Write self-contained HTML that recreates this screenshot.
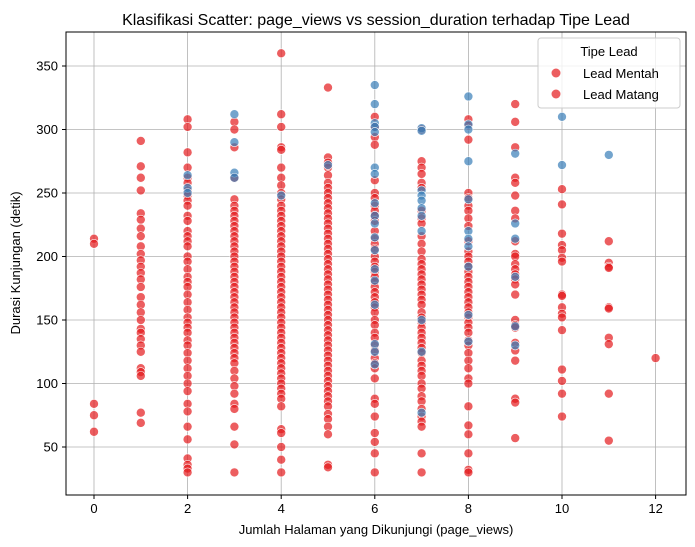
<!DOCTYPE html>
<html><head><meta charset="utf-8"><style>
body{margin:0;background:#fff}
svg{display:block;font-family:"Liberation Sans","DejaVu Sans",sans-serif}
</style></head><body>
<svg id="chart" width="695" height="547">
<text x="376" y="25" font-size="16" text-anchor="middle">Klasifikasi Scatter: page_views vs session_duration terhadap Tipe Lead</text>
<g id="grid"></g><g id="ticks"></g><g id="points"></g>
<rect x="66" y="32" width="620" height="463" fill="none" stroke="#000" stroke-width="1"/>
<text x="376" y="534" font-size="13" text-anchor="middle">Jumlah Halaman yang Dikunjungi (page_views)</text>
<text x="20" y="263" font-size="13" text-anchor="middle" transform="rotate(-90 20 263)">Durasi Kunjungan (detik)</text>
<g>
<rect x="538" y="38" width="142" height="70" rx="3" fill="#fff" fill-opacity="0.8" stroke="#ccc"/>
<text x="609" y="56" font-size="13" text-anchor="middle">Tipe Lead</text>
<circle cx="556" cy="73" r="4.5" fill="rgb(228,26,28)" fill-opacity="0.7"/>
<text x="583" y="78" font-size="13">Lead Mentah</text>
<circle cx="556" cy="94" r="4.5" fill="rgb(228,26,28)" fill-opacity="0.7"/>
<text x="583" y="99" font-size="13">Lead Matang</text>
</g>
</svg>
<script>
const xTicks=[0,2,4,6,8,10,12];
const yTicks=[50,100,150,200,250,300,350];
const redX=[0,1,2,3,4,5,6,7,8,9,10,11,12];
const redY=[
[214,210,84,75,62],
[291,271,262,252,234,229,222,216,208,202,197,192,187,182,176,168,162,156,150,143,140,135,130,125,112,109,106,77,69],
[308,302,282,270,262,258,252,248,244,240,232,228,220,216,212,208,200,196,190,184,180,176,170,164,158,152,148,144,140,134,130,124,118,112,106,100,94,84,78,66,56,41,36,33,30],
[306,300,286,262,245,240,236,232,228,224,220,216,212,208,204,200,196,192,188,184,180,176,172,168,164,160,156,152,148,144,140,136,132,128,124,120,116,110,104,98,92,84,80,66,52,30],
[360,312,302,286,284,270,262,256,250,245,240,236,232,228,224,220,216,212,208,204,200,196,192,188,184,180,176,172,168,164,160,156,152,148,144,140,136,132,128,124,120,116,112,108,104,100,96,92,88,82,64,61,50,40,30],
[333,278,274,270,264,258,254,250,246,242,238,234,230,226,222,218,214,210,206,202,198,194,190,186,182,178,174,170,166,162,158,154,150,146,142,138,134,130,126,122,118,114,110,106,102,98,94,90,86,82,76,72,66,60,36,34],
[310,302,294,288,260,250,246,240,236,232,228,220,214,210,206,200,196,192,188,184,180,176,172,168,164,160,156,150,146,140,136,130,126,120,116,112,104,88,84,74,61,54,45,30],
[300,275,270,265,258,254,236,230,226,216,210,204,198,194,190,186,182,178,174,170,166,162,156,152,148,144,140,136,132,128,124,118,114,110,106,100,96,90,86,80,74,70,66,45,30],
[308,303,292,250,246,240,236,230,224,212,204,200,196,192,188,184,180,176,172,168,164,160,156,152,148,144,140,134,130,124,118,112,104,100,82,67,60,45,32,30],
[320,306,286,262,258,248,236,230,212,202,200,194,190,186,182,178,170,150,146,144,132,126,118,88,85,57],
[253,241,218,209,205,199,196,170,169,160,155,152,142,111,102,92,74],
[212,195,192,191,160,159,136,131,92,55],
[120]];
const blueX=[2,3,4,5,6,7,8,9,10,11];
const blueY=[
[264,254,250],
[312,290,266,262],
[248],
[272],
[335,320,305,302,298,270,265,242,232,226,215,205,190,181,162,131,125,115],
[301,299,252,248,244,238,232,220,150,125,77],
[326,304,300,275,245,220,214,208,192,154,133],
[281,226,214,184,145,130],
[310,272],
[280]];
const NS='http://www.w3.org/2000/svg';
const sx=v=>94+v*46.8;
const sy=v=>510.5-v*1.27;
const grid=document.getElementById('grid'),ticks=document.getElementById('ticks'),pts=document.getElementById('points');
function mk(tag,attrs,parent){const e=document.createElementNS(NS,tag);for(const k in attrs)e.setAttribute(k,attrs[k]);parent.appendChild(e);return e;}
xTicks.forEach(t=>{
 const g=mk('line',{x1:sx(t),x2:sx(t),y1:32,y2:495,stroke:'#b0b0b0','stroke-width':0.8},grid);
 
 
 mk('line',{x1:sx(t),x2:sx(t),y1:495,y2:499,stroke:'#000'},ticks);
 const l=mk('text',{x:sx(t),y:513,'font-size':13,'text-anchor':'middle'},ticks);
 l.textContent=t;
 
 
});
yTicks.forEach(t=>{
 const g=mk('line',{x1:66,x2:686,y1:sy(t),y2:sy(t),stroke:'#b0b0b0','stroke-width':0.8},grid);
 
 
 mk('line',{x1:62,x2:66,y1:sy(t),y2:sy(t),stroke:'#000'},ticks);
 const l=mk('text',{x:58,y:sy(t)+4.5,'font-size':13,'text-anchor':'end'},ticks);
 l.textContent=t;
 
 
});
function draw(xs,ys,fill,name){
 xs.forEach((x,i)=>ys[i].forEach(v=>{
  const c=mk('circle',{cx:sx(x),cy:sy(v),r:4.5,fill:fill,'fill-opacity':0.7,stroke:'#fff','stroke-width':0.6},pts);
  
  
 }));
}
draw(redX,redY,'rgb(228,26,28)','point-red');
draw(blueX,blueY,'rgb(55,126,184)','point-blue');
</script>
</body></html>
